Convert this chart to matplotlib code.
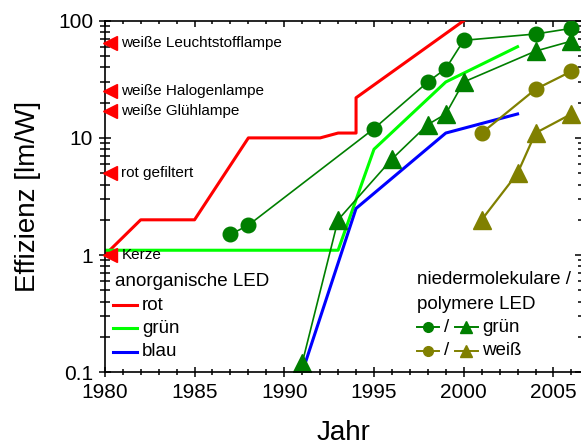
import matplotlib
matplotlib.use('Agg')
from matplotlib import pyplot as plt
from matplotlib.transforms import blended_transform_factory
from matplotlib.ticker import FixedLocator, NullFormatter, MultipleLocator

plt.rcParams['font.family'] = ['Liberation Sans', 'DejaVu Sans']

# anorganische LED
rot_jahr = [1980, 1982, 1985, 1988, 1992, 1993, 1994, 1994, 2000]
rot_eff = [1, 2, 2, 10, 10, 11, 11, 22, 100]
gruen_jahr = [1980, 1993, 1995, 1999, 2003]
gruen_eff = [1.1, 1.1, 8, 30, 60]
blau_jahr = [1991, 1994, 1999, 2003]
blau_eff = [0.1, 2.5, 11, 16]

# niedermolekulare (Kreise) / polymere (Dreiecke) LED
nm_gruen_jahr = [1987, 1988, 1995, 1998, 1999, 2000, 2004, 2006]
nm_gruen_eff = [1.5, 1.8, 12, 30, 39, 68, 77, 86]
poly_gruen_jahr = [1991, 1993, 1996, 1998, 1999, 2000, 2004, 2006]
poly_gruen_eff = [0.12, 2, 6.6, 13, 16, 30, 55, 67]
nm_weiss_jahr = [2001, 2004, 2006]
nm_weiss_eff = [11, 26, 37]
poly_weiss_jahr = [2001, 2003, 2004, 2006]
poly_weiss_eff = [2, 5, 11, 16]

# Vergleichslampen
lampen = ['weiße Leuchtstofflampe', 'weiße Halogenlampe', 'weiße Glühlampe',
          'rot gefiltert', 'Kerze']
lampen_eff = [65, 25, 17, 5, 1]

DKGRUEN = '#007f00'
OLIV = '#808000'

fig = plt.figure(figsize=(5.81, 4.48), dpi=100)
ax = fig.add_axes([0.1804, 0.169, 1.002 - 0.1804, 0.9538 - 0.169])

ax.plot(rot_jahr, rot_eff, color='#ff0000', lw=2.2)
ax.plot(gruen_jahr, gruen_eff, color='#00ff00', lw=2.2)
ax.plot(blau_jahr, blau_eff, color='#0000ff', lw=2.2)
ax.plot(nm_gruen_jahr, nm_gruen_eff, color=DKGRUEN, lw=1.2, marker='o', ms=10.5)
ax.plot(poly_gruen_jahr, poly_gruen_eff, color=DKGRUEN, lw=1.2, marker='^', ms=13)
ax.plot(nm_weiss_jahr, nm_weiss_eff, color=OLIV, lw=1.6, marker='o', ms=10.5)
ax.plot(poly_weiss_jahr, poly_weiss_eff, color=OLIV, lw=1.6, marker='^', ms=13)

ax.set_yscale('log')
ax.set_xlim(1980, 2006.6)
ax.set_ylim(0.1, 100)

# Vergleichslampen als Pfeile an der y-Achse
trans = blended_transform_factory(ax.transAxes, ax.transData)
ax.plot([0.010] * len(lampen_eff), lampen_eff, ls='none', marker='<', ms=9.5,
        color='#ff0000', transform=trans, clip_on=False, zorder=5)
for name, eff in zip(lampen, lampen_eff):
    ax.annotate(name, xy=(0, eff), xycoords=trans, xytext=(12, 0),
                textcoords='offset points', va='center', fontsize=11)

# Achsen und Ticks
for s in ax.spines.values():
    s.set_linewidth(1.2)
ax.spines['top'].set_visible(False)
ax.spines['right'].set_visible(False)
ax.xaxis.set_major_locator(MultipleLocator(5))
ax.xaxis.set_minor_locator(MultipleLocator(1))
ax.yaxis.set_major_locator(FixedLocator([0.1, 1, 10, 100]))
ax.set_yticklabels(['0.1', '1', '10', '100'])
ax.yaxis.set_minor_formatter(NullFormatter())
ax.tick_params(which='both', direction='inout', width=1.1, labelsize=15)
ax.tick_params(axis='x', which='major', length=7.5, pad=4)
ax.tick_params(axis='x', which='minor', length=5)
ax.tick_params(axis='y', which='major', length=9, pad=4)
ax.tick_params(axis='y', which='minor', length=7)

top = ax.secondary_xaxis('top')
top.xaxis.set_major_locator(MultipleLocator(5))
top.xaxis.set_minor_locator(MultipleLocator(1))
top.tick_params(which='both', direction='in', width=1.1, labeltop=False)
top.tick_params(which='major', length=4.3)
top.tick_params(which='minor', length=2.4)
top.spines['top'].set_linewidth(1.2)

right = ax.secondary_yaxis('right')
right.yaxis.set_major_locator(FixedLocator([0.1, 1, 10, 100]))
right.tick_params(which='both', direction='in', width=1.1, labelright=False)
right.tick_params(which='major', length=5)
right.tick_params(which='minor', length=3)
right.yaxis.set_minor_formatter(NullFormatter())

ax.set_xlabel('Jahr', fontsize=20, va='top')
ax.xaxis.set_label_coords(0.5, -0.135)
ax.set_ylabel('Effizienz [lm/W]', fontsize=20)
ax.yaxis.set_label_coords(-0.133, 0.5)

# Legende anorganische LED
ax.text(0.0214, 0.258, 'anorganische LED', transform=ax.transAxes,
        fontsize=13.5, va='center')
for farbe, name, y in [('#ff0000', 'rot', 0.191), ('#00ff00', 'grün', 0.125),
                       ('#0000ff', 'blau', 0.059)]:
    ax.plot([0.018, 0.067], [y, y], color=farbe, lw=2.2, transform=ax.transAxes)
    ax.text(0.0775, y, name, transform=ax.transAxes, fontsize=13.5, va='center')

# Legende organische LED
ax.text(0.655, 0.2625, 'niedermolekulare /', transform=ax.transAxes,
        fontsize=13.5, va='center')
ax.text(0.655, 0.194, 'polymere LED', transform=ax.transAxes,
        fontsize=13.5, va='center')
for farbe, name, y in [(DKGRUEN, 'grün', 0.128), (OLIV, 'weiß', 0.0614)]:
    ax.plot([0.655, 0.700], [y, y], color=farbe, lw=1.4, transform=ax.transAxes)
    ax.plot([0.6776], [y], color=farbe, marker='o', ms=7, transform=ax.transAxes)
    ax.text(0.716, y, '/', transform=ax.transAxes, fontsize=13.5,
            va='center', ha='center')
    ax.plot([0.733, 0.781], [y, y], color=farbe, lw=1.4, transform=ax.transAxes)
    ax.plot([0.757], [y], color=farbe, marker='^', ms=8.5, transform=ax.transAxes)
    ax.text(0.790, y, name, transform=ax.transAxes, fontsize=13.5, va='center')

fig.savefig('out.png', dpi=100)
